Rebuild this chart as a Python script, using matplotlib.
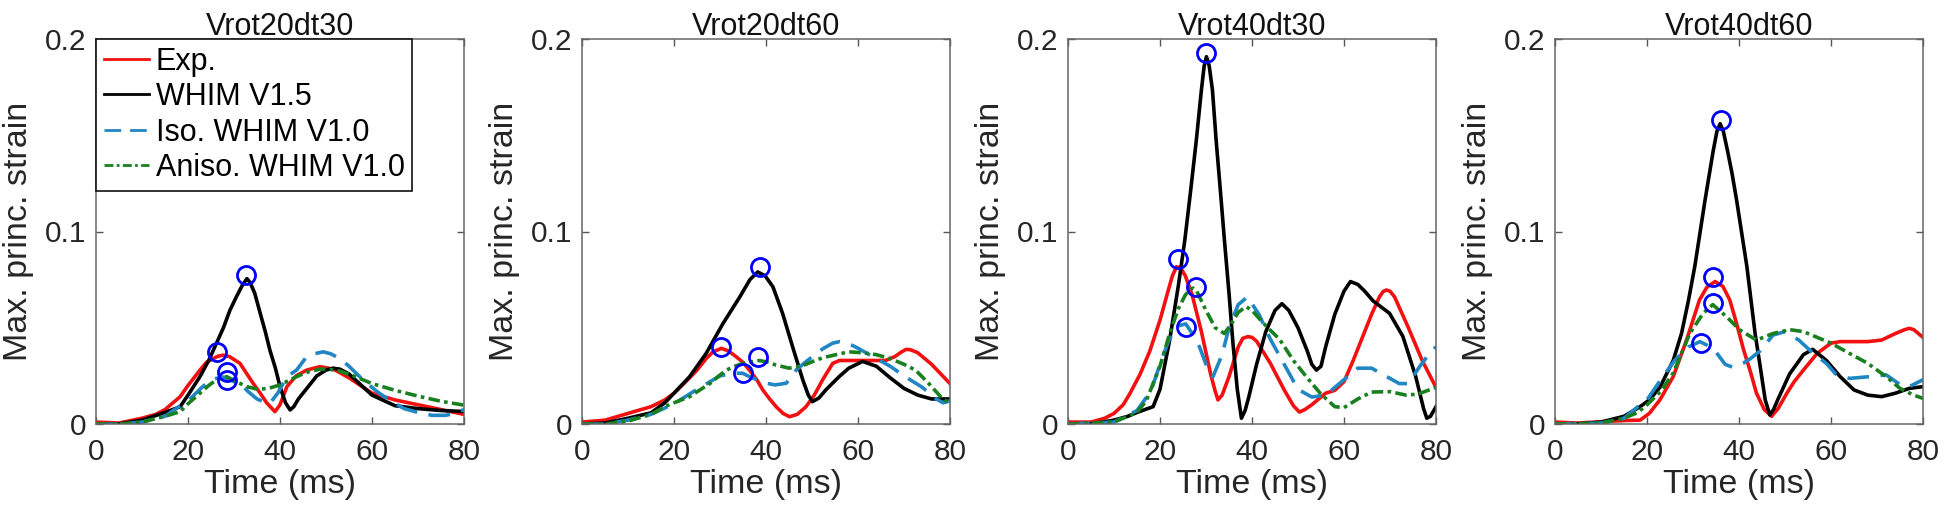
import matplotlib
matplotlib.use("Agg")
import matplotlib.pyplot as plt

plt.rcParams['font.family'] = ['Liberation Sans', 'DejaVu Sans']

titles = ["Vrot20dt30", "Vrot20dt60", "Vrot40dt30", "Vrot40dt60"]
series_names = ["Exp.", "WHIM V1.5", "Iso. WHIM V1.0", "Aniso. WHIM V1.0"]
xticks = [0, 20, 40, 60, 80]
xtick_labels = ["0", "20", "40", "60", "80"]
yticks = [0, 0.1, 0.2]
ytick_labels = ["0", "0.1", "0.2"]

# ---------------- Panel 1: Vrot20dt30 ----------------
p1_exp_t = [0, 5, 10, 13, 15, 18.3, 20, 22.6, 24, 25.5, 26.5, 27.7, 29, 30, 31.3, 32.8, 34.2, 35.7, 37.1, 38.9,
            40, 41.5, 43.5, 45.8, 48.7, 50.5, 52, 55, 60, 65, 70, 75, 80]
p1_exp_v = [0.001, 0.0005, 0.003, 0.005, 0.0075, 0.0142, 0.02, 0.028, 0.032, 0.034, 0.0352, 0.0358, 0.035, 0.0335,
            0.0315, 0.026, 0.021, 0.016, 0.011, 0.0064, 0.01, 0.0194, 0.025, 0.028, 0.0298, 0.029, 0.028, 0.024,
            0.016, 0.0125, 0.01, 0.0075, 0.005]
p1_w15_t = [0, 5, 10, 15, 18.3, 20, 22.6, 24.5, 26.2, 27.7, 29.1, 30.5, 31.8, 32.8, 33.5, 34.5, 35.7, 36.8, 37.8,
            39, 40, 41.2, 42.2, 43, 44, 46, 48, 50, 51.5, 53, 55, 60, 65, 70, 75, 80]
p1_w15_v = [0, 0, 0.002, 0.006, 0.009, 0.015, 0.0246, 0.033, 0.042, 0.05, 0.059, 0.066, 0.072, 0.0755, 0.0735,
            0.068, 0.0575, 0.048, 0.0384, 0.029, 0.0194, 0.011, 0.0073, 0.009, 0.013, 0.019, 0.025, 0.028, 0.029,
            0.0285, 0.026, 0.015, 0.0095, 0.008, 0.007, 0.0065]
p1_iso_t = [0, 5, 10, 15, 18, 20, 23, 25, 27.5, 30, 31.3, 33, 35, 36.4, 37.8, 39.5, 41.5, 43.6, 45.8, 47.5, 49.4,
            51, 53, 55, 58, 61, 64, 67, 70, 73, 76, 78, 80]
p1_iso_v = [0, 0, 0.001, 0.004, 0.009, 0.012, 0.019, 0.023, 0.0245, 0.022, 0.0212, 0.017, 0.013, 0.0116, 0.0107,
            0.016, 0.0246, 0.028, 0.035, 0.0365, 0.0375, 0.0365, 0.034, 0.03, 0.023, 0.017, 0.012, 0.008, 0.006,
            0.0045, 0.0045, 0.0055, 0.0075]
p1_ani_t = [0, 5, 10, 15, 18.3, 20, 22.6, 24.5, 26.2, 28.4, 30.5, 32.8, 35.2, 37.5, 40, 43.6, 46, 48.7, 50.5, 53,
            56, 60, 65, 70, 75, 80]
p1_ani_v = [0, 0, 0.001, 0.004, 0.0064, 0.0105, 0.016, 0.02, 0.023, 0.0246, 0.022, 0.0194, 0.018, 0.0185, 0.0203,
            0.0246, 0.027, 0.0285, 0.0285, 0.0275, 0.025, 0.021, 0.0175, 0.0145, 0.0118, 0.0098]
p1_peak_t = [32.7, 26.2, 28.4, 28.4]
p1_peak_v = [0.0774, 0.0376, 0.027, 0.0229]

# ---------------- Panel 2: Vrot20dt60 ----------------
p2_exp_t = [0, 5, 10, 15, 18, 20, 23, 25, 27, 28.5, 30.3, 31.8, 33.5, 35, 36.4, 38, 39.3, 40.8, 42.2, 43.7, 45.1,
            46.8, 48.7, 50.5, 52.3, 54.5, 56, 60, 63, 66, 68, 69.5, 70.5, 71.5, 73, 76, 78, 80]
p2_exp_v = [0.001, 0.002, 0.0055, 0.009, 0.0125, 0.016, 0.023, 0.028, 0.034, 0.0375, 0.0393, 0.038, 0.035, 0.032,
            0.028, 0.023, 0.0177, 0.013, 0.009, 0.0055, 0.0038, 0.005, 0.009, 0.015, 0.0229, 0.0315, 0.033, 0.033,
            0.033, 0.033, 0.035, 0.0375, 0.0388, 0.0385, 0.037, 0.031, 0.026, 0.021]
p2_w15_t = [0, 5, 10, 15, 18, 20, 23.4, 27, 30.6, 34.3, 36.5, 38.2, 39.8, 41.5, 43.6, 45.8, 48, 49.2, 50.1, 51.5,
            53, 55.9, 58, 61, 64, 67, 70, 73, 76, 80]
p2_w15_v = [0, 0.0005, 0.003, 0.0058, 0.011, 0.016, 0.0246, 0.0367, 0.052, 0.066, 0.075, 0.079, 0.077, 0.0713,
            0.0575, 0.040, 0.0229, 0.015, 0.0116, 0.0135, 0.0177, 0.0246, 0.029, 0.0325, 0.03, 0.024, 0.0185, 0.015,
            0.013, 0.013]
p2_iso_t = [0, 5, 10, 15, 20, 25, 30, 33, 35, 36.4, 38, 40, 42, 44.4, 46.6, 48.5, 50.1, 52.3, 54.5, 56, 57.5, 59.5,
            64, 67, 70, 74, 77, 78.5, 80]
p2_iso_v = [0, 0, 0.002, 0.005, 0.0105, 0.018, 0.025, 0.0265, 0.0263, 0.0246, 0.023, 0.0212, 0.0203, 0.0212, 0.0281,
            0.032, 0.035, 0.039, 0.042, 0.0428, 0.0422, 0.04, 0.034, 0.03, 0.025, 0.019, 0.013, 0.011, 0.012]
p2_ani_t = [0, 5, 10, 15, 18, 20, 23.4, 25.5, 27.8, 29.5, 31.4, 33, 35, 38.6, 40.5, 42.2, 45, 47, 48.7, 50.5, 52.3,
            55.2, 58, 61, 64, 67, 70, 72.5, 75.4, 78.3, 80]
p2_ani_v = [0, 0, 0.0015, 0.005, 0.009, 0.011, 0.0142, 0.0175, 0.021, 0.0245, 0.028, 0.0298, 0.0315, 0.033, 0.032,
            0.0306, 0.029, 0.0298, 0.031, 0.0328, 0.0344, 0.036, 0.0375, 0.037, 0.036, 0.034, 0.031, 0.028, 0.021,
            0.0133, 0.0107]
p2_peak_t = [38.6, 30.2, 35.1, 38.2]
p2_peak_v = [0.0817, 0.040, 0.0263, 0.035]

# ---------------- Panel 3: Vrot40dt30 ----------------
p3_exp_t = [0, 5, 8, 10, 12, 13.5, 15.7, 17.8, 20, 21.8, 22.7, 23.6, 24.5, 25.5, 27, 29, 31, 32, 32.6, 33.5, 35,
            37, 38, 39.1, 40, 41, 44, 47, 49, 50.3, 51.5, 53, 56, 58, 60, 62, 64, 66, 67.7, 68.5, 69.2, 70, 71, 74,
            77, 80]
p3_exp_v = [0.001, 0.001, 0.003, 0.0055, 0.01, 0.016, 0.026, 0.038, 0.054, 0.0695, 0.077, 0.0817, 0.081, 0.077,
            0.067, 0.048, 0.026, 0.017, 0.0125, 0.015, 0.0246, 0.040, 0.0445, 0.0454, 0.045, 0.043, 0.0315, 0.0177,
            0.0095, 0.0062, 0.0075, 0.01, 0.016, 0.0175, 0.022, 0.033, 0.045, 0.057, 0.066, 0.0688, 0.0696, 0.069,
            0.066, 0.05, 0.033, 0.019]
p3_w15_t = [0, 5, 10, 13, 15, 18.5, 20, 22.1, 24, 25.4, 26.7, 27.9, 29, 29.6, 30.1, 30.7, 31.4, 32.2, 33.1, 34,
            35, 35.8, 36.8, 37.7, 38.5, 39.3, 41, 43, 45, 46.5, 48, 50, 52, 53, 54, 55, 56, 58, 60, 61.4, 63, 64.5,
            66.3, 69.9, 72.8, 75.6, 77.3, 78, 78.8, 80]
p3_w15_v = [0, 0, 0.002, 0.004, 0.006, 0.009, 0.018, 0.0436, 0.072, 0.0956, 0.122, 0.1475, 0.1735, 0.186, 0.1908,
            0.186, 0.1735, 0.1475, 0.122, 0.0956, 0.068, 0.0436, 0.018, 0.003, 0.007, 0.014, 0.031, 0.048, 0.059,
            0.0625, 0.059, 0.05, 0.038, 0.031, 0.028, 0.03, 0.04, 0.057, 0.069, 0.074, 0.0725, 0.069, 0.064, 0.0575,
            0.0455, 0.0246, 0.008, 0.003, 0.004, 0.009]
p3_iso_t = [0, 10, 15, 18, 20, 22, 24, 25.6, 27, 28.6, 30, 31.5, 33.5, 35, 37, 39, 41.5, 44, 47, 50, 53, 56, 59.5,
            63, 66, 69, 72, 74, 76.5, 79, 80]
p3_iso_v = [0, 0.001, 0.007, 0.017, 0.031, 0.044, 0.051, 0.052, 0.047, 0.04, 0.031, 0.0245, 0.036, 0.05, 0.062,
            0.066, 0.057, 0.044, 0.031, 0.018, 0.014, 0.015, 0.022, 0.029, 0.029, 0.025, 0.021, 0.021, 0.03, 0.038,
            0.040]
p3_ani_t = [0, 10, 15, 17, 20, 22.1, 24, 25.5, 26.5, 27.2, 28, 30, 32, 34, 35.5, 37, 38.7, 40, 41.5, 43, 46, 49,
            52, 55, 58, 60, 63, 66, 70, 73.5, 76, 80]
p3_ani_v = [0, 0.001, 0.006, 0.012, 0.03, 0.047, 0.06, 0.067, 0.0698, 0.0706, 0.069, 0.059, 0.05, 0.047, 0.052,
            0.058, 0.061, 0.059, 0.055, 0.051, 0.044, 0.033, 0.024, 0.0155, 0.009, 0.0085, 0.013, 0.0166, 0.0168,
            0.015, 0.0155, 0.019]
p3_peak_t = [30.1, 24.0, 27.8, 25.7]
p3_peak_v = [0.1926, 0.0855, 0.0713, 0.0506]

# ---------------- Panel 4: Vrot40dt60 ----------------
p4_exp_t = [0, 5, 10, 15, 18.5, 20.5, 22.8, 25.7, 28.6, 31.4, 33, 34.8, 36.5, 38, 39.5, 41, 42.5, 43.8, 45.5, 47.1,
            48.5, 50.4, 52, 54, 57, 60, 62, 65, 68, 71, 74, 76, 77, 78, 79, 80]
p4_exp_v = [0.001, 0.0005, 0.0012, 0.0018, 0.002, 0.0055, 0.0125, 0.0246, 0.0436, 0.0644, 0.071, 0.074, 0.0715,
            0.0644, 0.052, 0.0385, 0.027, 0.016, 0.0075, 0.004, 0.008, 0.016, 0.022, 0.028, 0.0367, 0.042, 0.0428,
            0.0428, 0.0428, 0.0436, 0.047, 0.049, 0.0497, 0.049, 0.047, 0.045]
p4_w15_t = [0, 5, 10, 15, 18.5, 20.5, 22.8, 25.7, 27.5, 29, 30.4, 31.5, 32.6, 34.4, 35.2, 35.9, 36.6, 37.5, 38.5,
            39.5, 40.6, 41.7, 42.6, 43.5, 44.6, 45.7, 46.7, 47.5, 48.5, 51, 54, 56, 59, 62, 65, 68, 71, 74, 77, 80]
p4_w15_v = [0, 0, 0.001, 0.004, 0.009, 0.0125, 0.019, 0.033, 0.047, 0.064, 0.082, 0.099, 0.116, 0.142, 0.152,
            0.156, 0.152, 0.142, 0.13, 0.116, 0.099, 0.082, 0.0645, 0.047, 0.03, 0.0125, 0.0047, 0.0075, 0.013, 0.026,
            0.036, 0.0388, 0.033, 0.0246, 0.0177, 0.015, 0.0142, 0.016, 0.0185, 0.0194]
p4_iso_t = [0, 10, 15, 18, 20, 23, 26, 29, 31.5, 33, 35.1, 37, 38.5, 41, 42.5, 44.6, 47.4, 50, 53, 56, 59, 61, 64,
            68.4, 72, 75, 77, 80]
p4_iso_v = [0, 0.0005, 0.003, 0.009, 0.0125, 0.023, 0.033, 0.040, 0.0428, 0.041, 0.037, 0.031, 0.0296, 0.0317,
            0.034, 0.038, 0.0462, 0.048, 0.0436, 0.037, 0.0315, 0.026, 0.0237, 0.0246, 0.0255, 0.0205, 0.0194, 0.023]
p4_ani_t = [0, 10, 15, 18, 20, 23, 25.7, 29.3, 32.2, 34.3, 37.3, 40.2, 43.8, 47.4, 51, 54, 57, 60, 64, 68, 72, 75,
            78, 80]
p4_ani_v = [0, 0.0005, 0.003, 0.006, 0.01, 0.017, 0.0265, 0.047, 0.0575, 0.062, 0.0557, 0.0488, 0.0436, 0.047,
            0.049, 0.048, 0.045, 0.042, 0.0367, 0.0315, 0.0246, 0.0185, 0.015, 0.0133]
p4_peak_t = [36.0, 34.3, 34.3, 31.7]
p4_peak_v = [0.158, 0.0762, 0.0627, 0.0419]

panels = [
    (p1_exp_t, p1_exp_v, p1_w15_t, p1_w15_v, p1_iso_t, p1_iso_v, p1_ani_t, p1_ani_v, p1_peak_t, p1_peak_v),
    (p2_exp_t, p2_exp_v, p2_w15_t, p2_w15_v, p2_iso_t, p2_iso_v, p2_ani_t, p2_ani_v, p2_peak_t, p2_peak_v),
    (p3_exp_t, p3_exp_v, p3_w15_t, p3_w15_v, p3_iso_t, p3_iso_v, p3_ani_t, p3_ani_v, p3_peak_t, p3_peak_v),
    (p4_exp_t, p4_exp_v, p4_w15_t, p4_w15_v, p4_iso_t, p4_iso_v, p4_ani_t, p4_ani_v, p4_peak_t, p4_peak_v),
]

W, H = 1950, 516
fig = plt.figure(figsize=(W / 100, H / 100), dpi=100)
lefts_px = [96, 582, 1068, 1555]
ax_w, ax_h, ax_b = 368, 385, 92

c_exp = "#f21010"
c_w15 = "#000000"
c_iso = "#2186c4"
c_ani = "#18801e"
c_txt = "#262626"
lw = 2.6

for i, (left, data, title) in enumerate(zip(lefts_px, panels, titles)):
    ax = fig.add_axes([left / W, ax_b / H, ax_w / W, ax_h / H])
    et, ev, wt, wv, it, iv, at, av, pt, pv = data
    ax.plot(et, ev, color=c_exp, lw=lw, label=series_names[0], solid_joinstyle="round")
    ax.plot(wt, wv, color=c_w15, lw=lw, label=series_names[1], solid_joinstyle="round")
    ax.plot(it, iv, color=c_iso, lw=lw, dashes=(6.0, 3.2), label=series_names[2])
    ax.plot(at, av, color=c_ani, lw=lw, dashes=(3.2, 1.2, 1.0, 1.2), label=series_names[3])
    ax.plot(pt, pv, linestyle="none", marker="o", ms=13, mfc="none", mec="#0000ff", mew=2.0, zorder=5)

    ax.set_xlim(0, 80)
    ax.set_ylim(0, 0.2)
    ax.set_xticks(xticks)
    ax.set_xticklabels(xtick_labels)
    ax.set_yticks(yticks)
    ax.set_yticklabels(ytick_labels)
    ax.tick_params(direction="in", length=5, width=1, colors="#555555", labelcolor=c_txt,
                   top=True, right=True, labelsize=21.5)
    ax.tick_params(axis="x", pad=10)
    ax.tick_params(axis="y", pad=7)
    for s in ax.spines.values():
        s.set_color("#666666")
        s.set_linewidth(1.1)
    ax.set_title(title, fontsize=22, color="#111111", pad=3)
    ax.set_xlabel("Time (ms)", fontsize=24.5, color=c_txt, labelpad=2)
    ax.set_ylabel("Max. princ. strain", fontsize=24.5, color=c_txt, labelpad=8)

    if i == 0:
        leg = ax.legend(loc="upper left", fontsize=22, frameon=True, fancybox=False,
                        borderaxespad=0, borderpad=0.25, labelspacing=0.18,
                        handlelength=1.5, handletextpad=0.2)
        leg.get_frame().set_edgecolor("#111111")
        leg.get_frame().set_linewidth(1.2)
        leg.get_frame().set_alpha(1)
        for line in leg.get_lines():
            line.set_linewidth(2.0)

fig.savefig("out.png", dpi=100)
